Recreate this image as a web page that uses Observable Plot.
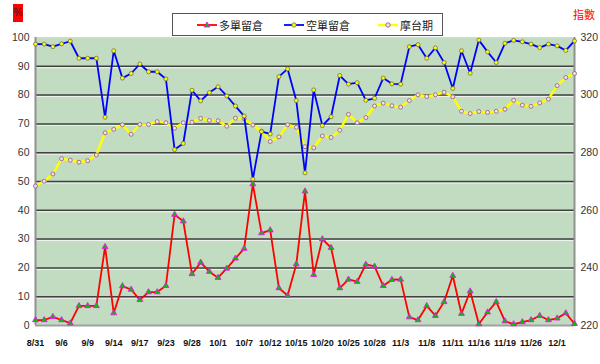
<!DOCTYPE html>
<html>
<head>
<meta charset="utf-8">
<script src="https://cdn.jsdelivr.net/npm/d3@7"></script>
<script src="https://cdn.jsdelivr.net/npm/@observablehq/plot@0.6"></script>
<style>
  body { margin:0; background:#fff; font-family: "Liberation Sans", Arial, sans-serif; }
  #wrap { position:relative; width:600px; height:364px; }
  #pct { position:absolute; left:13px; top:4px; width:10px; height:18px; background:#ff0000; font-size:10px; line-height:18px; text-align:center; color:#222; }
  #idx { position:absolute; left:573px; top:6px; font-size:11px; color:#ff0000; font-family:"Noto Sans CJK TC", sans-serif; }
  #legend { position:absolute; left:172px; top:13px; width:269px; height:21px; border:1px solid #555; background:#fff; box-sizing:content-box; }
  .item { position:absolute; top:0; height:21px; display:flex; align-items:center; font-size:11px; font-family:"Noto Sans CJK TC", sans-serif; color:#222; }
  .item svg { margin-right:2px; }
</style>
</head>
<body>
<div id="wrap">
  <div id="chart"></div>
  <div id="pct">%</div>
  <div id="idx">指數</div>
  <div id="legend"></div>
</div>
<script>
const xLabels = ["8/31","9/6","9/9","9/14","9/17","9/23","9/28","10/1","10/7","10/12","10/15","10/20","10/25","10/28","11/3","11/8","11/11","11/16","11/19","11/26","12/1"];
const seriesNames = ["多單留倉","空單留倉","摩台期"];
// 多單留倉 (%)
const longPos = [1.9,1.9,3.0,1.9,0.8,6.8,6.8,6.8,27.3,4.3,13.7,12.5,8.9,11.6,11.6,13.8,38.5,36.2,17.9,21.9,18.7,16.6,19.8,23.3,26.7,49.1,32.1,33.1,13.0,10.4,21.3,46.6,17.6,30.0,27.0,13.0,16.0,15.2,21.2,20.5,13.8,15.9,16.0,2.9,1.9,6.8,3.4,8.2,17.3,4.1,11.9,0.5,4.6,8.2,1.5,0.5,1.2,1.9,3.4,1.9,2.5,4.3,0.6];
// 空單留倉 (%)
const shortPos = [97.7,97.7,96.8,97.8,98.7,92.8,92.8,92.8,72.3,95.4,85.9,87.5,90.8,88.1,88.1,85.6,61.1,63.2,81.7,78.0,80.9,82.9,79.7,76.2,72.7,50.8,67.3,66.5,86.4,89.1,78.1,53.0,81.8,69.4,72.5,86.8,83.8,84.3,78.2,78.9,85.9,83.9,83.8,96.8,97.5,92.8,96.4,91.3,82.3,95.4,87.6,99.1,95.0,91.3,98.0,99.0,98.5,97.7,96.5,97.7,97.1,95.5,98.8];
// 摩台期 (指數)
const msci = [268.4,270.1,272.6,277.9,277.4,276.7,277.2,279.2,286.9,288.1,289.7,286.4,289.8,289.8,290.8,290.4,288.5,290.4,290.6,291.9,291.2,291.1,289.2,292.0,291.8,289.6,287.5,283.9,285.5,289.7,288.8,282.1,281.7,285.8,285.3,287.8,293.3,290.4,292.2,296.2,297.2,296.3,295.8,298.1,300.1,299.5,300.1,301.0,299.4,294.4,293.6,294.3,294.0,294.4,295.1,298.2,296.5,296.1,297.3,298.6,303.3,306.1,307.5];
const leftTicks = [0,10,20,30,40,50,60,70,80,90,100];
const rightTicks = [220,240,260,280,300,320];
const rightMin = 220;

const longData = longPos.map((v,i)=>({i, v}));
const shortData = shortPos.map((v,i)=>({i, v}));
const msciData = msci.map((v,i)=>({i, v: v - rightMin}));

const chart = Plot.plot({
  width: 600, height: 364,
  marginLeft: 35, marginRight: 26, marginTop: 37, marginBottom: 39,
  style: { fontFamily: "Liberation Sans, Arial, sans-serif", background: "transparent" },
  x: { domain: [0, longPos.length - 1], axis: null, label: null },
  y: { domain: [0, 100], axis: null, label: null },
  marks: [
    Plot.frame({ fill: "#c2dcc2", stroke: "#d8d8d8" }),
    Plot.ruleY(leftTicks.slice(1, -1), { stroke: "#f4f4f4", strokeWidth: 1, dy: 1.5 }),
    Plot.ruleY(leftTicks.slice(1, -1), { stroke: "#404040", strokeWidth: 1.5 }),
    Plot.ruleX([0, longPos.length - 1], { stroke: "#909090", strokeWidth: 2 }),
    Plot.ruleY([0], { stroke: "#a0a0a0", strokeWidth: 2 }),
    Plot.axisY({ ticks: leftTicks, label: null, tickSize: 0, tickPadding: 6, fontSize: 10.5, fill: "#333" }),
    Plot.axisY({ anchor: "right", label: null, ticks: rightTicks.map(t => t - rightMin), tickFormat: d => d + rightMin, tickSize: 0, tickPadding: 6, fontSize: 10.5, fill: "#333" }),
    Plot.axisX({ ticks: d3.range(0, xLabels.length * 3, 3), label: null, tickFormat: i => xLabels[i / 3], tickSize: 0, tickPadding: 14, fontSize: 9, fontWeight: "bold", fill: "#111" }),
    Plot.line(msciData, { x: "i", y: "v", stroke: "#ffff00", strokeWidth: 2.5 }),
    Plot.dot(msciData, { x: "i", y: "v", r: 2, fill: "#f0e0f0", stroke: "#a07090", strokeWidth: 1 }),
    Plot.line(shortData, { x: "i", y: "v", stroke: "#0000ff", strokeWidth: 1.8 }),
    Plot.dot(shortData, { x: "i", y: "v", r: 2, fill: "#ffff00", stroke: "#707040", strokeWidth: 0.8 }),
    Plot.line(longData, { x: "i", y: "v", stroke: "#ff0000", strokeWidth: 1.8 }),
    Plot.dot(longData, { x: "i", y: "v", symbol: "triangle", r: 2.2, fill: "#00c000", stroke: "#ff00ff", strokeWidth: 0.8 })
  ]
});
document.getElementById("chart").appendChild(chart);

// legend
const legendSpec = [
  { name: seriesNames[0], left: 24, line: "#ff0000", marker: "tri" },
  { name: seriesNames[1], left: 111, line: "#0000ff", marker: "circY" },
  { name: seriesNames[2], left: 205, line: "#ffff00", marker: "circP" }
];
const lg = document.getElementById("legend");
legendSpec.forEach(s => {
  const div = document.createElement("div");
  div.className = "item";
  div.style.left = s.left + "px";
  let m = "";
  if (s.marker === "tri") m = `<path d="M10,2 L13,7 L7,7 Z" fill="#00c000" stroke="#ff00ff" stroke-width="0.8"/>`;
  else if (s.marker === "circY") m = `<circle cx="10" cy="5" r="2.2" fill="#ffff00" stroke="#707040" stroke-width="0.8"/>`;
  else m = `<circle cx="10" cy="5" r="2.2" fill="#f0e0f0" stroke="#a07090" stroke-width="1"/>`;
  div.innerHTML = `<svg width="20" height="10"><line x1="0" y1="5" x2="20" y2="5" stroke="${s.line}" stroke-width="${s.marker==='circP'?2.5:1.8}"/>${m}</svg><span>${s.name}</span>`;
  lg.appendChild(div);
});
</script>
</body>
</html>
